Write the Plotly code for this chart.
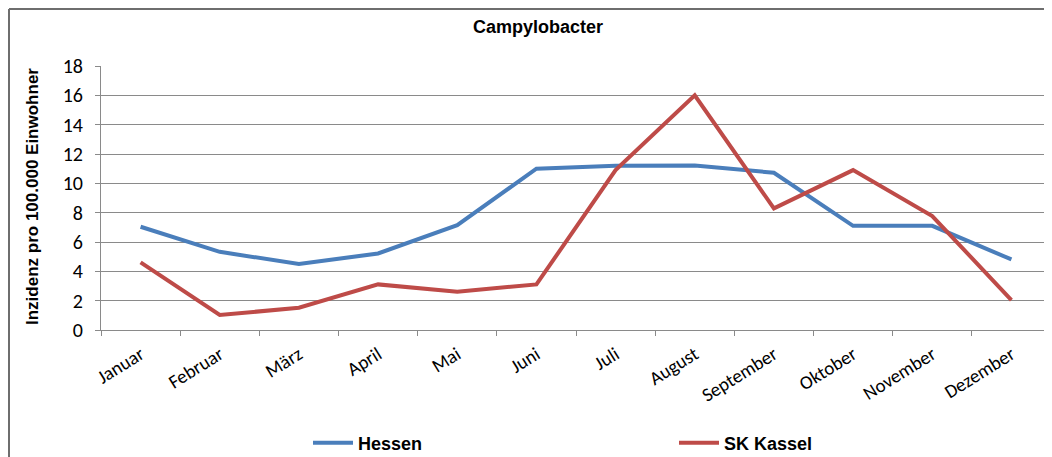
import plotly.graph_objects as go

months = ["Januar", "Februar", "März", "April", "Mai", "Juni", "Juli",
          "August", "September", "Oktober", "November", "Dezember"]
hessen = [7.04, 5.33, 4.5, 5.22, 7.15, 11.0, 11.2, 11.22, 10.72, 7.1, 7.1, 4.81]
kassel = [4.61, 1.02, 1.52, 3.11, 2.61, 3.11, 10.9, 16.0, 8.29, 10.9, 7.77, 2.04]
y_ticks = [0, 2, 4, 6, 8, 10, 12, 14, 16, 18]

# page body has an 8px margin -> figure coords = page coords - 8
OFF = 8
W, H = 1044, 449
L, R, T, B = 101 - OFF, 1, 66 - OFF, 457 - 330
PW, PH = W - L - R, H - T - B


def px(xpage):
    return (xpage - OFF - L) / PW


def py(ypage):
    return (H - B - (ypage - OFF)) / PH


fig = go.Figure()
fig.add_trace(go.Scatter(x=months, y=hessen, mode="lines", name="Hessen",
                         line=dict(color="#4a7ebb", width=4)))
fig.add_trace(go.Scatter(x=months, y=kassel, mode="lines", name="SK Kassel",
                         line=dict(color="#be4b48", width=4)))

grid = "#8a8a8a"
fig.update_layout(
    width=W, height=H,
    margin=dict(l=L, r=R, t=T, b=B, autoexpand=False),
    paper_bgcolor="white", plot_bgcolor="white",
    showlegend=True,
    legend=dict(orientation="h", x=px(308), xanchor="left",
                y=py(443), yanchor="middle", entrywidth=311, entrywidthmode="pixels",
                font=dict(family="Liberation Sans Narrow, Arial Narrow, Liberation Sans, Arial",
                          size=18, color="black", weight="bold"),
                itemwidth=40, traceorder="normal", bgcolor="rgba(0,0,0,0)"),
    xaxis=dict(type="category", range=[-0.5, 11.5], tickson="boundaries",
               ticks="outside", ticklen=5, tickcolor=grid, showgrid=False,
               showline=True, linecolor=grid, linewidth=1, tickangle=-32,
               ticklabelstandoff=5,
               tickfont=dict(family="Carlito, Lato, sans-serif", size=19, color="black")),
    yaxis=dict(range=[0, 18], tickvals=y_ticks, ticks="outside", ticklen=5,
               tickcolor=grid, showgrid=True, gridcolor=grid, gridwidth=1,
               showline=True, linecolor=grid, linewidth=1, zeroline=False,
               ticklabelstandoff=8,
               tickfont=dict(family="Carlito, Lato, sans-serif", size=20, color="black")),
)

fig.add_annotation(text="<b>Campylobacter</b>", xref="paper", yref="paper",
                   x=px(538), y=py(27),
                   xanchor="center", yanchor="middle", showarrow=False,
                   font=dict(family="Liberation Sans Narrow, Arial Narrow, Liberation Sans, Arial",
                             size=18, color="black"))
fig.add_annotation(text="<b>Inzidenz pro 100.000 Einwohner</b>", xref="paper", yref="paper",
                   x=px(32), y=py(197),
                   xanchor="center", yanchor="middle", textangle=-90, showarrow=False,
                   font=dict(family="Liberation Sans, Arial", size=17, color="black"))

# outer chart frame (top and left edges)
fig.add_shape(type="line", xref="paper", yref="paper",
              x0=px(OFF + 1), x1=px(W + OFF + 5), y0=py(OFF + 1), y1=py(OFF + 1),
              line=dict(color="#6e6e6e", width=2))
fig.add_shape(type="line", xref="paper", yref="paper",
              x0=px(OFF + 1), x1=px(OFF + 1), y0=py(OFF + 1), y1=py(H + OFF + 5),
              line=dict(color="#6e6e6e", width=2))

fig.write_html("out.html")
